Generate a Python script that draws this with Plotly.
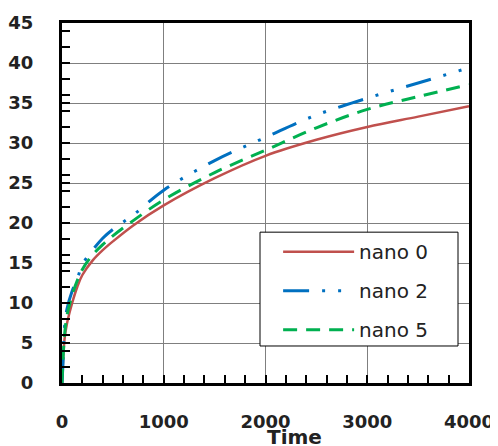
import plotly.graph_objects as go

t0 = [0, 25, 50, 100, 150, 200, 300, 400, 500, 700, 1000, 1500, 2000, 2500, 3000, 3500, 4000]
nano0 = [0, 5.5, 7.5, 10, 12, 13.5, 15.3, 16.6, 17.7, 19.7, 22.2, 25.6, 28.4, 30.4, 32.0, 33.3, 34.6]

t2 = [0, 10, 25, 50, 100, 150, 200, 300, 400, 500, 700, 1000, 1500, 2000, 2500, 3000, 3500, 4000]
nano2 = [0, 2.5, 7, 9.3, 11.5, 13, 14.8, 16.6, 18.1, 19.2, 21, 24.1, 27.8, 30.7, 33.5, 35.6, 37.5, 39.4]

t5 = [0, 25, 50, 100, 150, 200, 300, 400, 500, 700, 1000, 1500, 2000, 2500, 3000, 3500, 4000]
nano5 = [0, 6, 8.5, 11, 12.8, 14.2, 16.0, 17.3, 18.4, 20.3, 22.9, 26.3, 29.1, 31.9, 34.2, 35.8, 37.3]

names = ["nano 0", "nano 2", "nano 5"]
colors = ["#C0504D", "#0070C0", "#00B050"]

fig = go.Figure()
fig.add_trace(go.Scatter(x=t0, y=nano0, mode="lines", name=names[0], legendgroup="a",
                         line=dict(color=colors[0], width=2.5, shape="spline")))
fig.add_trace(go.Scatter(x=t2, y=nano2, mode="lines", name=names[1], legendgroup="b",
                         line=dict(color=colors[1], width=3, shape="spline",
                                   dash="26px,13px,3px,13px,3px,13px")))
fig.add_trace(go.Scatter(x=t5, y=nano5, mode="lines", name=names[2], legendgroup="c",
                         line=dict(color=colors[2], width=3, shape="spline", dash="14px,9px")))

tickfont = dict(family="DejaVu Sans, sans-serif", size=18, color="#222", weight="bold")

fig.update_layout(
    width=490, height=438,
    margin=dict(l=54, r=29, t=15, b=63),
    plot_bgcolor="white", paper_bgcolor="white",
    showlegend=True,
    legend=dict(x=0.531, y=0.419, xanchor="left", yanchor="top",
                bgcolor="rgba(0,0,0,0)", borderwidth=0,
                font=dict(family="DejaVu Sans, sans-serif", size=20, color="#222"),
                tracegroupgap=10, itemwidth=71),
    shapes=[dict(type="rect", xref="paper", yref="paper", x0=0.4865, x1=0.973, y0=0.1028, y1=0.419,
                 fillcolor="white", line=dict(color="black", width=1), layer="above")],
    xaxis=dict(range=[0, 4000], dtick=1000, tick0=0, showgrid=True, gridcolor="#7f7f7f", gridwidth=1,
               showline=True, linecolor="black", linewidth=3, mirror=True, automargin=False,
               ticks="inside", ticklen=8, tickwidth=2, tickcolor="black",
               minor=dict(dtick=200, ticks="inside", ticklen=8, tickwidth=2, tickcolor="black", showgrid=False),
               tickfont=tickfont, ticklabelstandoff=20, zeroline=False),
    yaxis=dict(range=[0, 45], dtick=5, tick0=0, showgrid=True, gridcolor="#7f7f7f", gridwidth=1,
               showline=True, linecolor="black", linewidth=3, mirror=True, automargin=False,
               ticks="inside", ticklen=8, tickwidth=2, tickcolor="black",
               minor=dict(dtick=2, tick0=0, ticks="inside", ticklen=8, tickwidth=2, tickcolor="black", showgrid=False),
               tickfont=tickfont, ticklabelstandoff=22, zeroline=False),
    annotations=[dict(text="<b>Time</b>", x=0.572, y=-0.15, xref="paper", yref="paper",
                      xanchor="center", yanchor="middle", showarrow=False,
                      font=dict(family="DejaVu Sans, sans-serif", size=20, color="#222"))],
)

fig.write_html("out.html")
